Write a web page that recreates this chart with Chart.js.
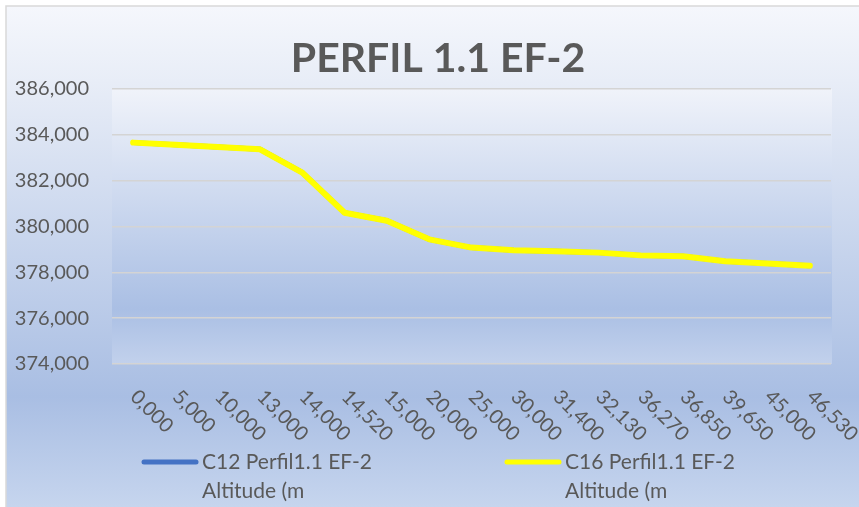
<!DOCTYPE html>
<html>
<head>
<meta charset="utf-8">
<script src="https://cdn.jsdelivr.net/npm/chart.js@4/dist/chart.umd.min.js"></script>
<style>
  html, body { margin: 0; padding: 0; background: #ffffff; }
  #wrap { width: 859px; height: 507px; position: relative; }
</style>
</head>
<body>
<div id="wrap"><canvas id="myChart" width="859" height="507"></canvas></div>
<script>
// data
var chartTitle = 'PERFIL 1.1 EF-2';
var distances = ['0,000', '5,000', '10,000', '13,000', '14,000', '14,520', '15,000', '20,000', '25,000',
                 '30,000', '31,400', '32,130', '36,270', '36,850', '39,650', '45,000', '46,530'];
var altitudeC16 = [383660, 383570, 383470, 383370, 382350, 380600, 380250, 379440, 379080,
                   378960, 378920, 378860, 378740, 378700, 378480, 378390, 378290];
// the blue series is hidden under the yellow one
var altitudeC12 = altitudeC16.slice();
var seriesNames = [['C12 Perfil1.1 EF-2', 'Altitude (m'], ['C16 Perfil1.1 EF-2', 'Altitude (m']];
var seriesColors = ['#4472c4', '#ffff00'];
var yMin = 374000, yMax = 386000, yStep = 2000;

var FONT = 'Lato, "Open Sans", sans-serif';
var TEXT = '#595959';

function fmt(v) {
    return Math.round(v).toString().replace(/\B(?=(\d{3})+(?!\d))/g, ',');
}

// backgrounds: chart box + plot area gradient
var bgPlugin = {
    id: 'bg',
    beforeDraw: function(chart) {
        var c = chart.ctx, a = chart.chartArea;
        c.save();
        c.fillStyle = '#ffffff';
        c.fillRect(0, 0, chart.width, chart.height);
        var g = c.createLinearGradient(0, 6, 0, chart.height);
        g.addColorStop(0, '#f5f7fc');
        g.addColorStop(0.15, '#e8edf7');
        g.addColorStop(0.78, '#a9bee3');
        g.addColorStop(1, '#c6d5ee');
        c.fillStyle = g;
        c.fillRect(6, 6, chart.width, chart.height);
        c.strokeStyle = '#d9d9d9';
        c.lineWidth = 1.5;
        c.beginPath();
        c.moveTo(6, chart.height);
        c.lineTo(6, 6);
        c.lineTo(chart.width, 6);
        c.stroke();

        var p = c.createLinearGradient(0, a.top, 0, a.bottom);
        p.addColorStop(0, '#f0f3fa');
        p.addColorStop(0.8, '#aabfe4');
        p.addColorStop(1, '#c2d1ec');
        c.fillStyle = p;
        c.fillRect(a.left, a.top, a.right - a.left + 1, a.bottom - a.top);
        c.restore();
    }
};

// title, rotated x labels + legend
var labelPlugin = {
    id: 'xlabels',
    afterDraw: function(chart) {
        var c = chart.ctx, x = chart.scales.x;
        c.save();
        c.fillStyle = TEXT;
        c.font = 'bold 41px ' + FONT;
        c.textAlign = 'center';
        c.textBaseline = 'alphabetic';
        c.fillText(chartTitle, 438, 72);

        c.font = '20px ' + FONT;
        c.textAlign = 'left';
        distances.forEach(function(lbl, i) {
            var px = x.getPixelForValue(i);
            c.save();
            c.translate(px - 4, 398);
            c.rotate(Math.PI / 4);
            c.fillText(lbl, 0, 0);
            c.restore();
        });

        // legend
        var starts = [142, 505];
        c.font = '21px ' + FONT;
        c.textBaseline = 'middle';
        seriesNames.forEach(function(name, i) {
            var lx = starts[i];
            c.strokeStyle = seriesColors[i];
            c.lineWidth = 5;
            c.lineCap = 'round';
            c.beginPath();
            c.moveTo(lx + 2, 462);
            c.lineTo(lx + 54, 462);
            c.stroke();
            c.fillStyle = TEXT;
            c.fillText(name[0], lx + 60, 462);
            c.fillText(name[1], lx + 60, 491);
        });
        c.restore();
    }
};

var ctx = document.getElementById('myChart');
new Chart(ctx, {
    type: 'line',
    data: {
        labels: distances,
        datasets: [{
            label: seriesNames[1].join(' '),
            data: altitudeC16,
            borderColor: seriesColors[1],
            borderWidth: 6,
            borderCapStyle: 'round',
            borderJoinStyle: 'round',
            pointRadius: 0,
            tension: 0,
            order: 0
        }, {
            label: seriesNames[0].join(' '),
            data: altitudeC12,
            borderColor: seriesColors[0],
            borderWidth: 5,
            pointRadius: 0,
            tension: 0,
            order: 1
        }]
    },
    options: {
        responsive: false,
        animation: false,
        layout: { padding: { left: 10, right: 28, top: 89, bottom: 143 } },
        plugins: {
            legend: { display: false },
            tooltip: { enabled: false },
            title: { display: false }
        },
        scales: {
            x: {
                offset: true,
                grid: { display: false },
                border: { display: false },
                ticks: { display: false },
                afterFit: function(s) { s.height = 0; }
            },
            y: {
                min: yMin,
                max: yMax,
                grid: { color: '#d4d4d4', lineWidth: 1.5, drawTicks: false },
                border: { display: false },
                ticks: {
                    stepSize: yStep,
                    padding: 23,
                    color: TEXT,
                    font: { family: FONT, size: 20 },
                    callback: function(v) { return fmt(v); }
                },
                afterFit: function(s) { s.width = 102; }
            }
        }
    },
    plugins: [bgPlugin, labelPlugin]
});
</script>
</body>
</html>
